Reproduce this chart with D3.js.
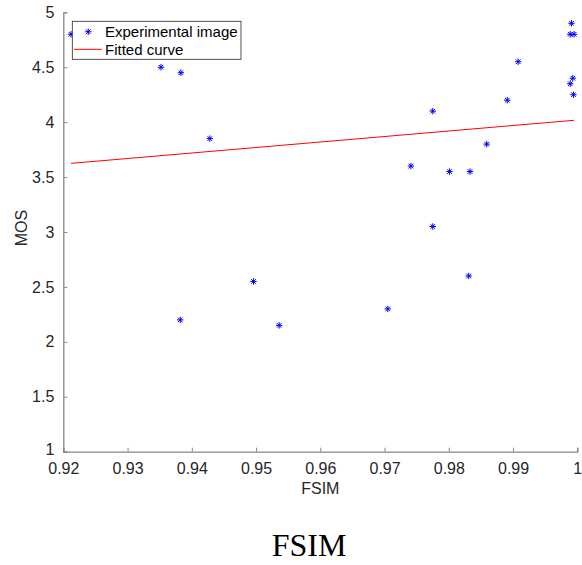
<!DOCTYPE html>
<html><head><meta charset="utf-8">
<script src="https://cdn.jsdelivr.net/npm/d3@7"></script>
<style>body{margin:0;background:#fff}svg{display:block}</style>
</head><body>
<script>
const fsim = [0.9212,0.9352,0.9383,0.9428,0.9382,0.9496,0.9536,0.9775,0.9831,0.9705,0.9991,0.9989,0.9995,0.9908,0.9993,0.9989,0.9994,0.9891,0.9775,0.9859,0.9741,0.9801,0.9833];
const mos  = [4.8,4.5,4.45,3.85,2.2,2.55,2.15,3.05,2.6,2.3,4.9,4.8,4.8,4.55,4.4,4.35,4.25,4.2,4.1,3.8,3.6,3.55,3.55];
const fitX = [0.9212, 0.9995];
const fitY = [3.625, 4.017];
const xTicks = [0.92,0.93,0.94,0.95,0.96,0.97,0.98,0.99,1];
const yTicks = [1,1.5,2,2.5,3,3.5,4,4.5,5];
const legendLabels = ["Experimental image","Fitted curve"];

const W=582,H=565;
const svg=d3.select("body").append("svg").attr("width",W).attr("height",H);
const x=d3.scaleLinear().domain([0.92,1]).range([63.3,577.3]);
const y=d3.scaleLinear().domain([1,5]).range([451.7,12.3]);
const axisCol="#888", txtCol="#262626";
const fontS="'Liberation Sans', Arial, sans-serif";

const gx=svg.append("g").attr("transform",`translate(0,${y(1)})`)
  .call(d3.axisBottom(x).tickValues(xTicks).tickSize(-4).tickPadding(11).tickFormat(d=>d===1?"1":d3.format(".2f")(d)));
const gy=svg.append("g").attr("transform",`translate(${x(0.92)},0)`)
  .call(d3.axisLeft(y).tickValues(yTicks).tickSize(-4).tickPadding(9).tickFormat(d=>String(d)));
[gx,gy].forEach(g=>{
  g.select(".domain").attr("stroke",axisCol).attr("stroke-width",1.3);
  g.selectAll(".tick line").attr("stroke",axisCol);
  g.selectAll(".tick text").attr("fill",txtCol).style("font-family",fontS).style("font-size","16px");
});
gy.selectAll(".tick text").filter(d=>d===1).attr("dy","0.2em");

// fitted line
svg.append("path").datum(fitX.map((v,i)=>[v,fitY[i]]))
  .attr("d",d3.line().x(d=>x(d[0])).y(d=>y(d[1])))
  .attr("stroke","#ff0000").attr("stroke-width",1).attr("fill","none");

function star(g,cx,cy,r){
  const a=r*0.72;
  const p=`M${cx-r},${cy}L${cx+r},${cy}M${cx},${cy-r}L${cx},${cy+r}M${cx-a},${cy-a}L${cx+a},${cy+a}M${cx-a},${cy+a}L${cx+a},${cy-a}`;
  g.append("path").attr("d",p).attr("stroke","#0000ff").attr("stroke-width",1).attr("fill","none");
}
const gp=svg.append("g");
fsim.forEach((v,i)=>star(gp,x(v),y(mos[i]),3.2));

// axis labels
svg.append("text").attr("x",(x(0.92)+x(1))/2).attr("y",494).attr("text-anchor","middle")
  .style("font-family",fontS).style("font-size","16px").attr("fill",txtCol).text("FSIM");
svg.append("text").attr("transform",`translate(27,228) rotate(-90)`).attr("text-anchor","middle")
  .style("font-family",fontS).style("font-size","16px").attr("fill",txtCol).text("MOS");

// legend
const lg=svg.append("g");
lg.append("rect").attr("x",72.3).attr("y",21.3).attr("width",168.7).attr("height",38)
  .attr("fill","#fff").attr("stroke","#262626").attr("stroke-width",0.8);
star(lg,88.3,31.7,3.2);
lg.append("line").attr("x1",74).attr("x2",101.7).attr("y1",49.3).attr("y2",49.3).attr("stroke","#ff0000").attr("stroke-width",1);
legendLabels.forEach((t,i)=>{
  lg.append("text").attr("x",105).attr("y",37+i*17.5).style("font-family",fontS).style("font-size","15px")
    .attr("fill","#000").text(t);
});

// title
svg.append("text").attr("x",309).attr("y",555.7).attr("text-anchor","middle")
  .style("font-family","'Liberation Serif','Times New Roman',serif").style("font-size","32px").attr("fill","#000").text("FSIM");
</script>
</body></html>
